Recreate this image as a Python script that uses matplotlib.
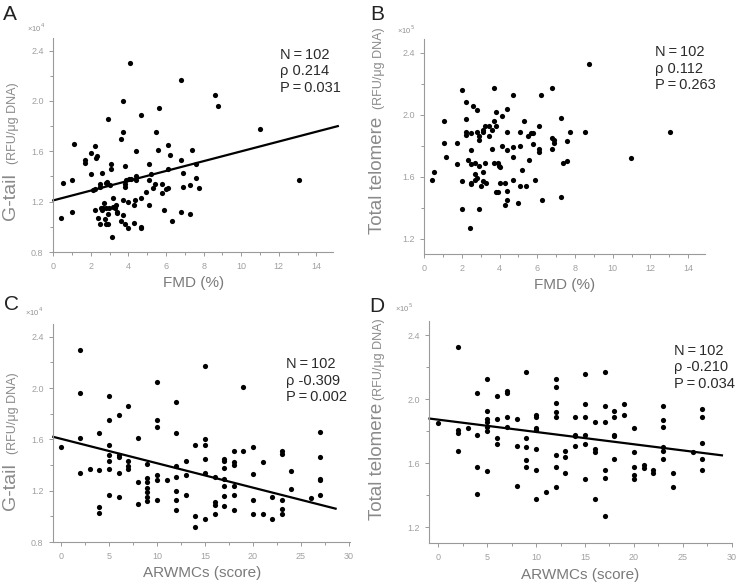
import matplotlib
matplotlib.use('Agg')
import matplotlib.pyplot as plt
from matplotlib.ticker import MultipleLocator, FormatStrFormatter

plt.rcParams['font.family'] = ['Liberation Sans', 'DejaVu Sans']

# ---- data ----
# A: FMD vs G-tail (x10^4)
a_fmd = [0.41, 0.52, 1.02, 1.02, 1.11, 1.70, 1.70, 2.0, 2.0, 2.09, 2.2, 2.2, 2.2, 2.25, 2.34,
         2.39, 2.48, 2.48, 2.48, 2.54, 2.59, 2.59, 2.64, 2.70, 2.73, 2.79, 2.79, 2.79, 2.84, 2.89,
         2.89, 2.89, 2.95, 3.04, 3.09, 3.09, 3.11, 3.20, 3.20, 3.30, 3.34, 3.39, 3.39, 3.59, 3.61,
         3.70, 3.70, 3.70, 3.73, 3.79, 3.79, 3.84, 3.84, 3.89, 3.95, 4.0, 4.04, 4.09, 4.14, 4.29,
         4.29, 4.34, 4.39, 4.39, 4.39, 4.68, 4.68, 4.68, 4.68, 4.95, 5.09, 5.09, 5.09, 5.20, 5.29,
         5.39, 5.48, 5.59, 5.64, 5.79, 5.79, 5.98, 6.09, 6.09, 6.09, 6.20, 5.89, 6.29, 6.79, 6.79,
         6.88, 6.88, 6.8, 7.29, 7.29, 7.38, 7.57, 7.57, 7.77, 8.59, 8.79, 10.98, 13.09]
a_gtail = [1.07, 1.35, 1.37, 1.12, 1.66, 1.53, 1.51, 1.59, 1.42, 1.29, 1.64, 1.30, 1.13, 1.55, 1.56,
           1.07, 1.34, 1.32, 1.02, 1.15, 1.43, 1.13, 1.15, 1.19, 1.06, 1.15, 1.02, 1.35, 1.36, 1.86,
           1.10, 1.02, 1.15, 1.33, 1.46, 1.50, 0.92, 1.23, 1.16, 1.15, 1.17, 1.11, 1.12, 1.70, 1.05,
           1.75, 2.00, 1.21, 1.09, 1.34, 1.48, 1.32, 1.02, 1.37, 1.20, 0.99, 1.38, 2.30, 1.38, 1.17,
           1.03, 1.21, 1.60, 1.40, 1.37, 1.89, 1.23, 1.00, 0.99, 1.28, 1.50, 1.37, 1.17, 1.42, 1.31,
           1.34, 1.75, 1.61, 1.94, 1.34, 1.27, 1.30, 1.65, 1.46, 1.31, 1.57, 1.13, 1.05, 1.53, 1.12,
           1.43, 1.32, 2.17, 1.33, 1.10, 1.61, 1.50, 1.39, 1.31, 2.05, 1.96, 1.78, 1.37]
a_fit_x = [0.0, 15.14]
a_fit_y = [1.21, 1.80]

# B: FMD vs total telomere (x10^5)
b_fmd = [0.42, 0.53, 1.02, 1.02, 1.13, 1.71, 1.71, 2.0, 2.0, 2.0, 2.21, 2.21, 2.21, 2.21, 2.31,
         2.4, 2.5, 2.5, 2.5, 2.5, 2.5, 2.61, 2.7, 2.7, 2.7, 2.81, 2.81, 2.81, 2.92, 2.92,
         2.92, 2.92, 3.0, 3.11, 3.14, 3.11, 3.11, 3.22, 3.22, 3.3, 3.41, 3.41, 3.6, 3.6, 3.71,
         3.71, 3.71, 3.8, 3.8, 3.8, 3.9, 3.9, 3.98, 4.01, 4.01, 4.1, 4.1, 4.29, 4.29, 4.4,
         4.4, 4.4, 4.4, 4.4, 4.7, 4.7, 4.7, 4.7, 5.0, 5.09, 5.09, 5.09, 5.19, 5.28, 5.39,
         5.49, 5.58, 5.69, 5.78, 5.78, 5.88, 6.08, 6.08, 6.08, 6.18, 6.27, 6.77, 6.77, 6.77, 6.87,
         6.87, 7.28, 7.28, 7.37, 7.56, 7.56, 7.76, 8.55, 8.76, 10.95, 13.04]
b_telo = [1.58, 1.63, 1.96, 1.82, 1.73, 1.82, 1.68, 2.16, 1.57, 1.39, 2.08, 1.97, 1.89, 1.87, 1.71,
          1.27, 1.88, 1.77, 1.68, 1.56, 1.55, 2.06, 1.69, 1.62, 1.58, 2.03, 1.89, 1.59, 1.86, 1.84,
          1.67, 1.39, 1.54, 1.89, 1.90, 1.63, 1.57, 1.93, 1.69, 1.56, 1.93, 1.86, 1.90, 1.78, 2.17,
          1.96, 1.69, 2.02, 1.93, 1.50, 1.69, 1.50, 1.67, 1.66, 1.56, 1.99, 1.80, 1.56, 1.42, 2.04,
          1.89, 1.77, 1.51, 1.45, 2.13, 1.79, 1.73, 1.58, 1.43, 1.89, 1.80, 1.54, 1.64, 1.96, 1.54,
          1.86, 1.71, 1.88, 1.88, 1.81, 1.58, 1.93, 1.78, 1.76, 2.13, 1.45, 2.17, 1.85, 1.78, 1.84,
          1.82, 1.98, 1.47, 1.69, 1.83, 1.70, 1.89, 1.89, 2.33, 1.72, 1.89]

# C: ARWMCs vs G-tail (x10^4)
c_score = [0, 2, 2, 2, 2, 3, 4, 4, 4, 4, 5, 5, 5, 5, 5, 5, 5, 6, 6, 6, 6, 6, 7, 7, 7, 7,
           8, 8, 8, 9, 9, 9, 9, 9, 9, 9, 10, 10, 10, 10, 10, 10, 11, 12, 12, 12, 12, 12, 12, 12,
           13, 13, 13, 14, 14, 14, 15, 15, 15, 15, 15, 15, 16, 16, 16, 16, 17, 17, 17, 17, 17, 17, 17,
           18, 18, 18, 18, 18, 18, 19, 19, 20, 20, 20, 20, 21, 21, 22, 22, 23, 23, 23, 23, 23,
           24, 24, 26, 27, 27, 27, 27, 27]
c_gtail = [1.54, 2.30, 1.96, 1.61, 1.34, 1.37, 1.65, 1.36, 1.07, 1.03, 1.94, 1.75, 1.56, 1.48, 1.43,
           1.37, 1.17, 1.79, 1.48, 1.46, 1.34, 1.15, 1.86, 1.43, 1.39, 1.37, 1.61, 1.27, 1.10, 1.41,
           1.30, 1.27, 1.22, 1.19, 1.15, 1.12, 2.05, 1.75, 1.70, 1.32, 1.28, 1.13, 1.28, 1.89, 1.65,
           1.39, 1.31, 1.20, 1.13, 1.05, 1.43, 1.32, 1.17, 1.56, 1.00, 0.92, 2.17, 1.60, 1.56, 1.45,
           1.34, 0.98, 1.31, 1.11, 1.09, 1.02, 1.45, 1.43, 1.38, 1.29, 1.24, 1.16, 1.08, 1.51, 1.42,
           1.40, 1.24, 1.17, 1.05, 2.01, 1.51, 1.54, 1.33, 1.13, 1.02, 1.42, 1.02, 1.15, 0.98, 1.51,
           1.49, 1.13, 1.06, 1.02, 1.35, 1.21, 1.14, 1.66, 1.46, 1.29, 1.28, 1.17]
c_fit_x = [-0.8, 28.6]
c_fit_y = [1.62, 1.06]

# D: ARWMCs vs total telomere (x10^5)
d_score = [0, 2, 2, 2, 2, 3, 4, 4, 4, 4, 5, 5, 5, 5, 5, 5, 5, 6, 6, 6, 6, 7, 7, 7, 7,
           8, 8, 8, 9, 9, 9, 9, 9, 10, 10, 10, 10, 10, 10, 10, 11, 12, 12, 12, 12, 12, 12, 12, 12,
           13, 13, 13, 14, 14, 14, 14, 15, 15, 15, 15, 15, 15, 16, 16, 16, 16, 17, 17, 17, 17, 17, 17,
           18, 18, 18, 18, 18, 19, 19, 20, 20, 20, 20, 20, 21, 21, 22, 22, 23, 23, 23, 23, 23, 23,
           24, 24, 26, 27, 27, 27, 27, 27]
d_telo = [1.85, 2.33, 1.81, 1.79, 1.68, 1.82, 2.04, 1.78, 1.58, 1.41, 2.13, 1.93, 1.88, 1.86, 1.83,
          1.80, 1.55, 2.02, 1.88, 1.76, 1.72, 2.05, 2.04, 1.89, 1.83, 1.88, 1.71, 1.46, 2.17, 1.76,
          1.70, 1.62, 1.58, 1.90, 1.89, 1.82, 1.81, 1.69, 1.56, 1.38, 1.42, 2.13, 2.08, 1.98, 1.92,
          1.89, 1.65, 1.58, 1.45, 1.68, 1.64, 1.54, 1.89, 1.78, 1.77, 1.71, 2.16, 1.97, 1.89, 1.78,
          1.72, 1.50, 1.86, 1.69, 1.67, 1.38, 2.17, 1.96, 1.86, 1.56, 1.51, 1.27, 1.93, 1.89, 1.78,
          1.77, 1.63, 1.97, 1.90, 1.82, 1.67, 1.58, 1.53, 1.50, 1.59, 1.57, 1.56, 1.54, 1.96, 1.87,
          1.83, 1.70, 1.68, 1.63, 1.54, 1.45, 1.67, 1.94, 1.89, 1.73, 1.63, 1.56]
d_fit_x = [-0.9, 29.0]
d_fit_y = [1.88, 1.65]

stats_a = ['N\u2009=\u2009102', 'ρ 0.214', 'P\u2009=\u20090.031']
stats_b = ['N\u2009=\u2009102', 'ρ 0.112', 'P\u2009=\u20090.263']
stats_c = ['N\u2009=\u2009102', 'ρ -0.309', 'P\u2009=\u20090.002']
stats_d = ['N\u2009=\u2009102', 'ρ -0.210', 'P\u2009=\u20090.034']

W, H = 740, 582
fig = plt.figure(figsize=(W / 100, H / 100), dpi=100)


def px(x, y):
    return x / W, 1 - y / H


def panel(rect, xs, ys, xlim, ylim, xmaj, xmin, ymaj):
    ax = fig.add_axes(rect)
    ax.scatter(xs, ys, s=14, color='black', linewidths=0, zorder=3, clip_on=False)
    ax.set_xlim(*xlim)
    ax.set_ylim(*ylim)
    ax.xaxis.set_major_locator(MultipleLocator(xmaj))
    ax.xaxis.set_minor_locator(MultipleLocator(xmin))
    ax.yaxis.set_major_locator(MultipleLocator(ymaj))
    ax.yaxis.set_minor_locator(MultipleLocator(ymaj / 2))
    ax.yaxis.set_major_formatter(FormatStrFormatter('%.1f'))
    for s in ['top', 'right']:
        ax.spines[s].set_visible(False)
    for s in ['left', 'bottom']:
        ax.spines[s].set_color('#9a9a9a')
        ax.spines[s].set_linewidth(0.8)
    ax.tick_params(which='both', colors='#9a9a9a', labelsize=6.5, labelcolor='#a0a0a0',
                   direction='out', width=0.7)
    ax.tick_params(which='major', length=3, pad=4)
    ax.tick_params(which='minor', length=2)
    return ax


def stats(x, y, lines):
    for i, t in enumerate(lines):
        fig.text(*px(x, y + i * 16.5), t, fontsize=10.5, color='#2a2a2a', va='top', ha='left')


def ylab(x, y_big, big, size, y_small):
    fig.text(*px(x, y_big), big, fontsize=size, color='#8a8a8a', rotation=90,
             ha='center', va='center')
    fig.text(*px(x + 2, y_small), '(RFU/μg DNA)', fontsize=9, color='#8a8a8a', rotation=90,
             ha='center', va='center')


# A
axA = panel([53.3 / W, 1 - 252 / H, 280 / W, 214 / H], a_fmd, a_gtail,
            (0, 14.9), (0.8, 2.5), 2, 1, 0.4)
axA.plot(a_fit_x, a_fit_y, color='black', lw=1.6, clip_on=False)
axA.set_xlabel('FMD (%)', fontsize=11, color='#7a7a7a', labelpad=4)
# B
axB = panel([424.3 / W, 1 - 254 / H, 280.7 / W, 215 / H], b_fmd, b_telo,
            (0, 14.9), (1.1, 2.49), 2, 1, 0.4)
axB.set_xlabel('FMD (%)', fontsize=11, color='#7a7a7a', labelpad=4)
# C
axC = panel([53.3 / W, 1 - 542 / H, 296.7 / W, 218 / H], c_score, c_gtail,
            (-0.8, 30.1), (0.8, 2.5), 5, 2.5, 0.4)
axC.plot(c_fit_x, c_fit_y, color='black', lw=1.6, clip_on=False)
axC.set_xlabel('ARWMCs (score)', fontsize=11, color='#7a7a7a', labelpad=4)
# D
axD = panel([429.3 / W, 1 - 543.3 / H, 302.4 / W, 222.3 / H], d_score, d_telo,
            (-0.92, 30.0), (1.1, 2.49), 5, 2.5, 0.4)
axD.plot(d_fit_x, d_fit_y, color='black', lw=1.6, clip_on=False)
axD.set_xlabel('ARWMCs (score)', fontsize=11, color='#7a7a7a', labelpad=4)

# panel letters
for (x, y), letter in zip([(3, 5), (370, 5), (4, 295), (369, 297)], 'ABCD'):
    fig.text(*px(x, y), letter, fontsize=15, color='#222222', va='top', ha='left')

# exponent markers
for (x, y), t in zip([(27, 28), (397, 30), (25, 312), (395, 308)],
                     ['×10$^4$', '×10$^5$', '×10$^4$', '×10$^5$']):
    fig.text(*px(x, y), t, fontsize=5.5, color='#909090', va='center', ha='left')

# y labels (two sizes)
ylab(11, 197, 'G-tail', 14, 123)
ylab(377, 175, 'Total telomere', 13.5, 68)
ylab(11, 487, 'G-tail', 14, 413)
ylab(377, 461, 'Total telomere', 13.5, 359)

stats(280, 48, stats_a)
stats(655, 45, stats_b)
stats(286, 357, stats_c)
stats(674, 344, stats_d)

fig.savefig('out.png', dpi=100)
